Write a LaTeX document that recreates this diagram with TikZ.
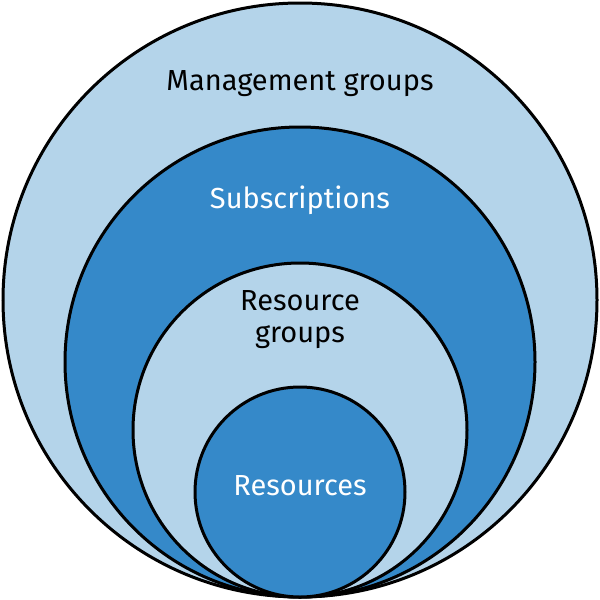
\documentclass[tikz,border=0pt]{standalone}
\usepackage{fontspec}
\setmainfont{Fira Sans}
\begin{document}
\begin{tikzpicture}[x=1pt,y=-1pt,
  light/.style={fill={rgb,255:red,180;green,212;blue,234},draw=black,line width=3pt},
  dark/.style={fill={rgb,255:red,53;green,137;blue,201},draw=black,line width=3pt},
  lbl/.style={font=\fontsize{29}{36}\selectfont,align=center}]
\useasboundingbox (0,0) rectangle (600,600);
\node[light,circle,minimum size=594pt,inner sep=0] (c1) at (300,300) {};
\node[dark,circle,minimum size=470pt,inner sep=0] (c2) at (300,362) {};
\node[light,circle,minimum size=334pt,inner sep=0] (c3) at (300,430) {};
\node[dark,circle,minimum size=210pt,inner sep=0] (c4) at (300,492) {};
\node[lbl] (t1) at (300,84) {Management groups};
\node[lbl,text=white] (t2) at (300,200) {Subscriptions};
\node[lbl,text=black] (t3) at (300,320) {Resource\\[-4pt]groups};
\node[lbl,text=white] (t4) at (300,486) {Resources};
\end{tikzpicture}
\end{document}
